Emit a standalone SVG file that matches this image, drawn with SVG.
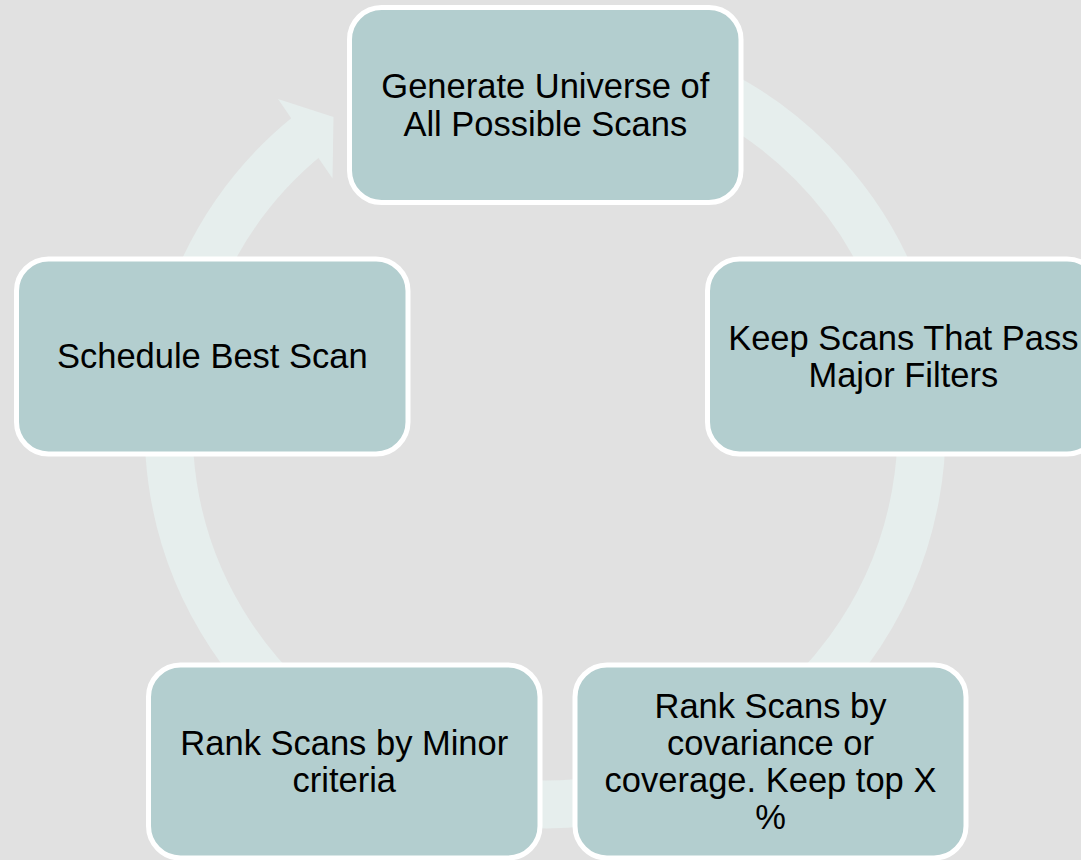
<svg xmlns="http://www.w3.org/2000/svg" width="1081" height="860" viewBox="0 0 1081 860">
<style>
.bg{fill:#e1e1e1}
.ring{fill:none;stroke:#e6eeed;stroke-width:48}
.head{fill:#e6eeed}
.box{fill:#b3cecf;stroke:#ffffff;stroke-width:5}
.t{font-family:"Liberation Sans",Arial,sans-serif;font-size:34.5px;fill:#000;text-anchor:middle}
</style>
<rect class="bg" x="0" y="0" width="1081" height="860"/>
<g id="connectors">
<path class="ring" d="M 479.6 57.2 A 376.5 376.5 0 1 1 308.1 135.4"/>
<polygon class="head" points="278,99 333.5,117 332.5,178.5"/>
</g>
<g id="node1">
<rect class="box" x="349.5" y="7.5" width="391.5" height="195" rx="32" ry="32"/>
<text class="t" x="545.3" y="98">Generate Universe of</text>
<text class="t" x="545.3" y="136">All Possible Scans</text>
</g>
<g id="node2">
<rect class="box" x="707.5" y="259" width="391.5" height="195" rx="32" ry="32"/>
<text class="t" x="903.3" y="350">Keep Scans That Pass</text>
<text class="t" x="903.3" y="387">Major Filters</text>
</g>
<g id="node3">
<rect class="box" x="575" y="665" width="391" height="193" rx="32" ry="32"/>
<text class="t" x="770.5" y="718">Rank Scans by</text>
<text class="t" x="770.5" y="755">covariance or</text>
<text class="t" x="770.5" y="792">coverage. Keep top X</text>
<text class="t" x="770.5" y="829">%</text>
</g>
<g id="node4">
<rect class="box" x="148.5" y="665" width="391.5" height="193" rx="32" ry="32"/>
<text class="t" x="344.3" y="755">Rank Scans by Minor</text>
<text class="t" x="344.3" y="792">criteria</text>
</g>
<g id="node5">
<rect class="box" x="16.5" y="259" width="391.5" height="195" rx="32" ry="32"/>
<text class="t" x="212.3" y="368">Schedule Best Scan</text>
</g>
</svg>
